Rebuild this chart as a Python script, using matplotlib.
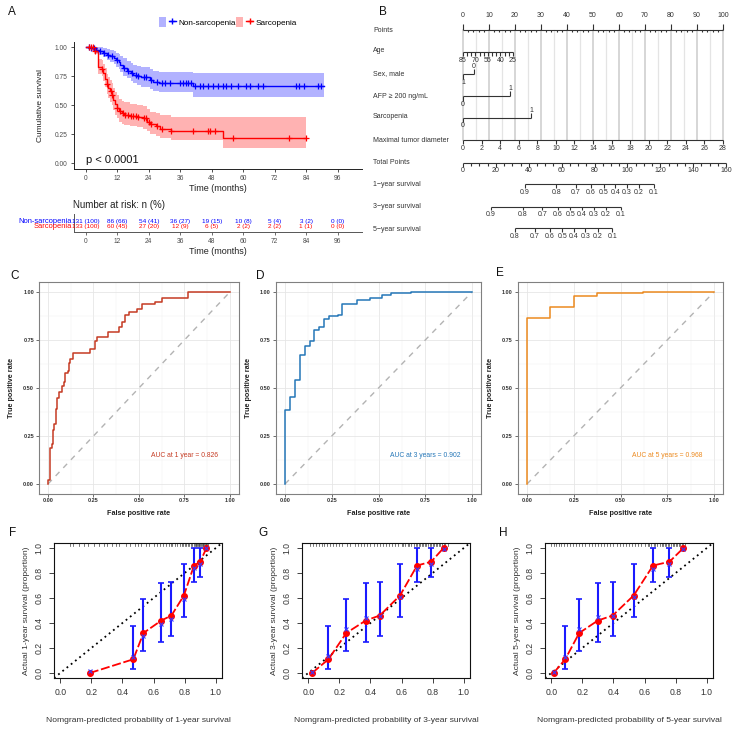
import numpy as np
import matplotlib
matplotlib.use('Agg')
import matplotlib.pyplot as plt
from matplotlib.patches import Patch
from matplotlib.lines import Line2D
from matplotlib.legend_handler import HandlerTuple

plt.rcParams['font.family'] = ['Liberation Sans', 'DejaVu Sans']

# ---------------- data: Kaplan-Meier (panel A) ----------------
t_ns = [0, 2, 4, 5, 6.5, 8, 9, 10.5, 11.5, 12.5, 13, 14, 15.5, 17, 18, 19.5, 21, 24.5, 25.5, 28, 41]
s_ns = [1.0, 0.99, 0.98, 0.965, 0.95, 0.935, 0.925, 0.91, 0.89, 0.87, 0.85, 0.82, 0.80, 0.78, 0.76, 0.75, 0.74, 0.72, 0.70, 0.695, 0.665]
up_ns = [1.0, 1.0, 1.0, 1.0, 0.995, 0.985, 0.975, 0.965, 0.95, 0.94, 0.925, 0.905, 0.885, 0.865, 0.85, 0.84, 0.83, 0.81, 0.795, 0.79, 0.78]
lo_ns = [1.0, 0.97, 0.955, 0.935, 0.915, 0.89, 0.875, 0.86, 0.83, 0.81, 0.79, 0.755, 0.735, 0.71, 0.69, 0.675, 0.66, 0.64, 0.62, 0.615, 0.575]
end_ns = 91
cens_ns = [1, 2, 3, 5.5, 7, 8.5, 10, 12, 14.5, 16, 17.5, 19, 20, 22, 23, 25, 27, 29, 30, 32, 36, 37, 38, 39, 40,
           41.5, 43.4, 44.6, 46.5, 48.4, 50.3, 52.2, 53.5, 55.4, 57.9, 61.1, 62.6, 65.6, 67.4, 80.2, 81.4, 83.3, 88.4, 89.7]

t_s = [0, 3, 4.5, 6, 6.6, 7.2, 7.9, 8.5, 9.1, 9.8, 10.4, 11, 11.9, 12.7, 13.6, 14.5, 16.7, 19.3, 21.8, 23.1, 24.4, 26.9, 28.2, 32.6, 52.3]
s_s = [1.0, 0.97, 0.83, 0.815, 0.78, 0.73, 0.68, 0.65, 0.62, 0.59, 0.55, 0.51, 0.48, 0.45, 0.43, 0.42, 0.41, 0.40, 0.39, 0.36, 0.34, 0.32, 0.30, 0.28, 0.22]
up_s = [1.0, 1.0, 0.90, 0.89, 0.86, 0.82, 0.77, 0.745, 0.715, 0.69, 0.65, 0.615, 0.585, 0.555, 0.535, 0.525, 0.515, 0.505, 0.495, 0.465, 0.445, 0.43, 0.42, 0.40, 0.40]
lo_s = [1.0, 0.94, 0.77, 0.75, 0.71, 0.66, 0.60, 0.56, 0.53, 0.50, 0.46, 0.42, 0.39, 0.36, 0.34, 0.33, 0.32, 0.31, 0.30, 0.275, 0.255, 0.235, 0.215, 0.20, 0.135]
end_s = 84
cens_s = [1, 2, 2.5, 3.5, 6, 8, 9.5, 10, 12, 13, 14, 15, 16, 17, 18, 19, 20, 22, 23, 24, 25, 27, 29, 32.6,
          40.8, 46.5, 47.4, 49.1, 56, 77.6, 84]

risk_times = [0, 12, 24, 36, 48, 60, 72, 84, 96]
risk_ns = ["131 (100)", "86 (66)", "54 (41)", "36 (27)", "19 (15)", "10 (8)", "5 (4)", "3 (2)", "0 (0)"]
risk_s = ["133 (100)", "60 (45)", "27 (20)", "12 (9)", "6 (5)", "2 (2)", "2 (2)", "1 (1)", "0 (0)"]

# ---------------- data: nomogram (panel B) ----------------
nomo_rows = ["Points", "Age", "Sex, male", "AFP \u2265 200 ng/mL", "Sarcopenia",
             "Maximal tumor diameter", "Total Points", "1\u2212year survival",
             "3\u2212year survival", "5\u2212year survival"]
age_ticks = [85, 80, 75, 70, 65, 60, 55, 50, 45, 40, 35, 30, 25]
age_labels = [85, 70, 55, 40, 25]
age_max_points = 19.2
sex_points = {"1": 0.0, "0": 4.2}
afp_points = {"0": 0.0, "1": 18.1}
sarc_points = {"0": 0.0, "1": 26.3}
tumor_ticks = list(range(0, 29, 2))
total_ticks = list(range(0, 161, 20))
surv_labels_1y = [0.9, 0.8, 0.7, 0.6, 0.5, 0.4, 0.3, 0.2, 0.1]
surv_tp_1y = [37.6, 56.7, 68.6, 77.9, 85.5, 92.7, 99.6, 107.0, 116.1]
surv_labels_3y = [0.9, 0.8, 0.7, 0.6, 0.5, 0.4, 0.3, 0.2, 0.1]
surv_tp_3y = [17.1, 36.2, 48.3, 57.5, 65.2, 72.4, 79.5, 86.9, 96.0]
surv_labels_5y = [0.8, 0.7, 0.6, 0.5, 0.4, 0.3, 0.2, 0.1]
surv_tp_5y = [31.6, 43.5, 52.7, 60.4, 67.4, 74.4, 81.9, 90.9]

# ---------------- data: ROC (panels C-E) ----------------
fpr_1y = [0, 0, 0.01, 0.013, 0.02, 0.027, 0.035, 0.042, 0.05, 0.06, 0.077, 0.086, 0.092, 0.11, 0.115, 0.123, 0.137,
          0.23, 0.26, 0.27, 0.33, 0.39, 0.405, 0.425, 0.447, 0.487, 0.515, 0.59, 0.625, 0.77, 1.0]
tpr_1y = [0, 0.02, 0.10, 0.19, 0.21, 0.28, 0.315, 0.39, 0.45, 0.48, 0.51, 0.53, 0.58, 0.59, 0.63, 0.65, 0.68,
          0.705, 0.745, 0.765, 0.79, 0.82, 0.845, 0.88, 0.895, 0.91, 0.935, 0.95, 0.97, 1.0, 1.0]
fpr_3y = [0, 0, 0.027, 0.053, 0.08, 0.107, 0.134, 0.155, 0.182, 0.209, 0.235, 0.285, 0.305, 0.383, 0.455, 0.517, 0.565, 0.672, 1.0]
tpr_3y = [0, 0.385, 0.454, 0.544, 0.674, 0.717, 0.743, 0.80, 0.818, 0.861, 0.873, 0.88, 0.94, 0.958, 0.967, 0.985, 0.993, 1.0, 1.0]
fpr_5y = [0, 0, 0.125, 0.25, 0.373, 0.622, 1.0]
tpr_5y = [0, 0.863, 0.923, 0.979, 0.993, 1.0, 1.0]
auc_texts = ["AUC at 1 year = 0.826", "AUC at 3 years = 0.902", "AUC at 5 years = 0.968"]

# ---------------- data: calibration (panels F-H) ----------------
obs = [0.0, 0.11, 0.32, 0.42, 0.46, 0.62, 0.86, 0.89, 1.0]
obs_lo = [np.nan, 0.035, 0.175, 0.25, 0.30, 0.445, 0.73, 0.77, np.nan]
obs_hi = [np.nan, 0.38, 0.595, 0.72, 0.725, 0.875, 1.0, 1.0, np.nan]
pred_1y = [0.19, 0.47, 0.535, 0.65, 0.715, 0.795, 0.86, 0.90, 0.94]
pred_3y = [0.025, 0.13, 0.245, 0.37, 0.46, 0.59, 0.70, 0.79, 0.87]
pred_5y = [0.015, 0.09, 0.18, 0.30, 0.395, 0.53, 0.655, 0.76, 0.85]
corr_1y = [0.02, 0.125, 0.30, 0.39, 0.435, 0.59, 0.84, 0.87, 1.0]
corr_3y = [0.005, 0.14, 0.35, 0.44, 0.46, 0.61, 0.83, 0.87, 0.995]
corr_5y = [0.005, 0.13, 0.355, 0.45, 0.46, 0.61, 0.83, 0.87, 0.995]
rug_1y = [0.06, 0.08, 0.12, 0.15, 0.18, 0.22, 0.25, 0.28, 0.30, 0.33, 0.36, 0.38, 0.42, 0.45, 0.48, 0.50, 0.52,
          0.55, 0.57, 0.60, 0.62, 0.64, 0.66, 0.68, 0.70, 0.71, 0.72, 0.74, 0.75, 0.77, 0.78, 0.79, 0.80, 0.81,
          0.82, 0.83, 0.84, 0.85, 0.86, 0.865, 0.87, 0.875, 0.88, 0.885, 0.89, 0.895, 0.90, 0.905, 0.91, 0.915,
          0.92, 0.925, 0.93, 0.935, 0.94, 0.945, 0.95]
rug_3y = [0.01, 0.03, 0.05, 0.07, 0.09, 0.10, 0.12, 0.14, 0.16, 0.18, 0.20, 0.22, 0.25, 0.27, 0.30, 0.32, 0.34,
          0.36, 0.38, 0.40, 0.42, 0.44, 0.46, 0.48, 0.50, 0.52, 0.54, 0.56, 0.58, 0.60, 0.61, 0.62, 0.64, 0.65,
          0.66, 0.68, 0.69, 0.70, 0.71, 0.72, 0.73, 0.74, 0.75, 0.76, 0.77, 0.78, 0.79, 0.80, 0.81, 0.82, 0.83,
          0.84, 0.85, 0.86, 0.87, 0.88, 0.90]
rug_5y = [0.00, 0.02, 0.03, 0.05, 0.06, 0.08, 0.10, 0.12, 0.14, 0.16, 0.18, 0.20, 0.22, 0.24, 0.26, 0.28, 0.30,
          0.32, 0.34, 0.36, 0.38, 0.40, 0.42, 0.44, 0.46, 0.48, 0.50, 0.52, 0.54, 0.56, 0.58, 0.60, 0.62, 0.63,
          0.64, 0.66, 0.67, 0.68, 0.70, 0.71, 0.72, 0.73, 0.74, 0.75, 0.76, 0.77, 0.78, 0.79, 0.80, 0.81, 0.82,
          0.83, 0.84, 0.85, 0.86]

# =====================================================================
W, H = 736, 729
fig = plt.figure(figsize=(W / 100, H / 100), dpi=100)


def add_ax(l, t, r, b):
    return fig.add_axes([l / W, 1 - b / H, (r - l) / W, (b - t) / H])


def ftext(x, y, s, **kw):
    fig.text(x / W, 1 - y / H, s, **kw)


# ---------------- Panel A ----------------
axA = add_ax(74, 41.5, 362, 169.1)
xl = (-4.58, 105.35)
for t, s, up, lo, end, col in [(t_ns, s_ns, up_ns, lo_ns, end_ns, 'blue'),
                               (t_s, s_s, up_s, lo_s, end_s, 'red')]:
    tt = list(t) + [end]
    axA.fill_between(tt, list(up) + [up[-1]], list(lo) + [lo[-1]], step='post', color=col, alpha=0.3, lw=0)
    axA.step(tt, list(s) + [s[-1]], where='post', color=col, lw=1.0)
for t, s, c, col in [(t_ns, s_ns, cens_ns, 'blue'), (t_s, s_s, cens_s, 'red')]:
    idx = np.searchsorted(np.array(t), np.array(c), side='right') - 1
    axA.plot(c, np.array(s)[idx], ls='none', marker='+', ms=5, mew=0.9, color=col)
axA.set_xlim(*xl)
axA.set_ylim(-0.05, 1.05)
axA.set_xticks(risk_times)
axA.set_yticks([0, 0.25, 0.5, 0.75, 1.0])
axA.set_yticklabels(["0.00", "0.25", "0.50", "0.75", "1.00"])
for sp in ['top', 'right']:
    axA.spines[sp].set_visible(False)
for sp in ['left', 'bottom']:
    axA.spines[sp].set_color('#222222')
    axA.spines[sp].set_linewidth(0.7)
axA.tick_params(length=2.5, width=0.6, colors='#333333', labelsize=4.8, labelcolor='#4d4d4d', pad=2)
axA.set_ylabel("Cumulative survival", fontsize=6, color='#222222', labelpad=8)
axA.set_xlabel("Time (months)", fontsize=6.5, color='#222222', labelpad=1.5)
axA.text(0, 0.03, "p < 0.0001", fontsize=8, ha='left', va='center', color='#111111')

h1 = (Patch(facecolor='blue', alpha=0.3, lw=0), Line2D([], [], color='blue', marker='+', ms=5, lw=1))
h2 = (Patch(facecolor='red', alpha=0.3, lw=0), Line2D([], [], color='red', marker='+', ms=5, lw=1))
fig.legend([h1, h2], ["Non-sarcopenia", "Sarcopenia"], handler_map={tuple: HandlerTuple(ndivide=None)},
           loc='center', bbox_to_anchor=(228 / W, 1 - 22 / H), ncol=2, frameon=False, fontsize=5.9,
           handlelength=2.0, handleheight=1.6, handletextpad=0.3, columnspacing=0.1)

# risk table
axR = add_ax(74, 214, 362, 232)
axR.set_xlim(*xl)
axR.set_ylim(0, 1)
for t, a, b in zip(risk_times, risk_ns, risk_s):
    axR.text(t, 0.61, a, ha='center', va='center', fontsize=4.6, color='blue')
    axR.text(t, 0.28, b, ha='center', va='center', fontsize=4.6, color='red')
axR.text(-0.007, 0.61, "Non-sarcopenia", transform=axR.transAxes, ha='right', va='center', fontsize=5.4, color='blue')
axR.text(-0.007, 0.28, "Sarcopenia", transform=axR.transAxes, ha='right', va='center', fontsize=5.4, color='red')
axR.set_xticks(risk_times)
axR.set_yticks([])
for sp in ['top', 'right']:
    axR.spines[sp].set_visible(False)
for sp in ['left', 'bottom']:
    axR.spines[sp].set_color('#555555')
    axR.spines[sp].set_linewidth(0.7)
axR.tick_params(length=2.5, width=0.6, colors='#555555', labelsize=4.8, labelcolor='#4d4d4d', pad=2)
axR.set_xlabel("Time (months)", fontsize=6.5, color='#222222', labelpad=1.5)
ftext(73, 205, "Number at risk: n (%)", fontsize=7, ha='left', va='center', color='#222222')

# ---------------- Panel B (nomogram) ----------------
axB = add_ax(370, 0, 736, 245)
pxp = 2.6  # pixels per point
axB.set_xlim((370 - 463) / pxp, (736 - 463) / pxp)
axB.set_ylim(245, 0)
axB.axis('off')
lc = '#333333'
lkw = dict(color=lc, lw=0.8, solid_capstyle='butt')
tk = dict(fontsize=5, color='#333333', ha='center', va='center')
row_y = [30, 51, 74, 96, 117, 140, 163, 184, 207, 229]
for name, y in zip(nomo_rows, row_y):
    axB.text((373 - 463) / pxp, y, name, fontsize=5, color='#333333', ha='left', va='center')

# vertical guide lines
for p in range(0, 101, 5):
    axB.plot([p, p], [30, 140], color='#d0d0d0' if p % 10 == 0 else '#e4e4e4', lw=1.2 if p % 10 == 0 else 0.9, zorder=0)

# Points
yP = 29.5
axB.plot([0, 100], [yP, yP], **lkw)
for p in range(0, 101, 2):
    if p % 10 == 0:
        axB.plot([p, p], [yP, yP - 6], **lkw)
        axB.text(p, 15.5, str(p), **tk)
    else:
        axB.plot([p, p], [yP, yP + 2], **lkw)

# Age
yA = 51.7
age_pts = [(85 - a) / (85 - 25) * age_max_points for a in age_ticks]
axB.plot([min(age_pts), max(age_pts)], [yA, yA], **lkw)
for a, p in zip(age_ticks, age_pts):
    axB.plot([p, p], [yA, yA + 4], **lkw)
    if a in age_labels:
        axB.text(p, 60.2, str(a), **tk)

# binary variables
for pts, y in [(sex_points, 74), (afp_points, 96), (sarc_points, 117.5)]:
    items = list(pts.items())
    xs = [v for k, v in items]
    axB.plot([min(xs), max(xs)], [y, y], **lkw)
    for k, v in items:
        if v == max(xs):
            axB.plot([v, v], [y, y - 5], **lkw)
            axB.text(v, y - 7.5, k, **tk)
        else:
            axB.plot([v, v], [y, y + 4.5], **lkw)
            axB.text(v, y + 8, k, **tk)

# tumour diameter
yT = 140
axB.plot([0, 100], [yT, yT], **lkw)
for d in tumor_ticks:
    p = d / 28 * 100
    axB.plot([p, p], [yT, yT + 3.5], **lkw)
    axB.text(p, 148.7, str(d), **tk)

# total points
yTP = 163.3
tps = 101.2 / 160
axB.plot([0, 160 * tps], [yTP, yTP], **lkw)
for v in range(0, 161, 5):
    axB.plot([v * tps, v * tps], [yTP, yTP + (3.5 if v % 20 == 0 else 2.2)], **lkw)
for v in total_ticks:
    axB.text(v * tps, 170.7, str(v), **tk)

# survival axes
for labs, tpv, y in [(surv_labels_1y, surv_tp_1y, 184.3), (surv_labels_3y, surv_tp_3y, 206.7),
                     (surv_labels_5y, surv_tp_5y, 228.3)]:
    xs = [v * tps for v in tpv]
    axB.plot([xs[0], xs[-1]], [y, y], **lkw)
    for lab, x in zip(labs, xs):
        axB.plot([x, x], [y, y + 3.5], **lkw)
        axB.text(x, y + 8, f"{lab:g}", **tk)

# ---------------- Panels C-E (ROC) ----------------
roc_cols = ['#c53b23', '#2577b8', '#ec8a1f']
roc_rects = [(38.9, 282.4, 239, 493.6), (275.65, 282.4, 481.35, 493.6), (517.65, 282.4, 723.35, 493.6)]
for rect, fpr, tpr, col, txt in zip(roc_rects, [fpr_1y, fpr_3y, fpr_5y], [tpr_1y, tpr_3y, tpr_5y],
                                    roc_cols, auc_texts):
    ax = add_ax(*rect)
    ax.set_xlim(-0.05, 1.05)
    ax.set_ylim(-0.05, 1.05)
    ticks = [0, 0.25, 0.5, 0.75, 1.0]
    tl = ["0.00", "0.25", "0.50", "0.75", "1.00"]
    ax.set_xticks(ticks)
    ax.set_xticklabels(tl)
    ax.set_yticks(ticks)
    ax.set_yticklabels(tl)
    ax.set_xticks([0.125, 0.375, 0.625, 0.875], minor=True)
    ax.set_yticks([0.125, 0.375, 0.625, 0.875], minor=True)
    ax.grid(True, which='major', color='#e6e6e6', lw=0.6)
    ax.grid(True, which='minor', color='#f2f2f2', lw=0.35)
    ax.set_axisbelow(True)
    ax.tick_params(which='major', length=2, width=0.5, colors='#333333', labelsize=4, labelcolor='#333333', pad=1.5)
    ax.tick_params(which='minor', length=0)
    for lab in ax.get_xticklabels() + ax.get_yticklabels():
        lab.set_fontweight('bold')
    for sp in ax.spines.values():
        sp.set_color('#808080')
        sp.set_linewidth(0.8)
    ax.plot([0, 1], [0, 1], color='#b3b3b3', lw=1.0, ls=(0, (4, 4)))
    ax.plot(fpr, tpr, drawstyle='steps-post', color=col, lw=1.1)
    ax.text(0.75, 0.15, txt, color=col, fontsize=4.9, ha='center', va='center')
    ax.set_xlabel("False positive rate", fontsize=5.2, fontweight='bold', color='#222222', labelpad=5)
    ax.set_ylabel("True positive rate", fontsize=5.2, fontweight='bold', color='#222222', labelpad=6)

# ---------------- Panels F-H (calibration) ----------------
cal_rects = [(54, 543, 222, 678), (302, 543, 470, 678), (545, 543, 713, 678)]
cal_years = ["1", "3", "5"]
for rect, pred, corr, rug, yr in zip(cal_rects, [pred_1y, pred_3y, pred_5y], [corr_1y, corr_3y, corr_5y],
                                     [rug_1y, rug_3y, rug_5y], cal_years):
    ax = add_ax(*rect)
    ax.set_xlim(-0.04, 1.04)
    ax.set_ylim(-0.04, 1.04)
    ax.axline((0, 0), (1, 1), color='black', ls=(0, (1, 2)), lw=1.3)
    for x in rug:
        ax.plot([x, x], [1.04, 1.015], color='#444444', lw=0.5)
    pred_a = np.array(pred)
    lo = np.array(obs_lo)
    hi = np.array(obs_hi)
    ok = ~np.isnan(lo)
    o = np.array(obs)
    ax.errorbar(pred_a[ok], o[ok], yerr=[o[ok] - lo[ok], hi[ok] - o[ok]], fmt='none', ecolor='#1a1aff',
                elinewidth=1.5, capsize=2, capthick=1.2, zorder=3)
    ax.plot(pred, obs, color='red', lw=1.3, ls=(0, (5, 1.5)), zorder=4)
    ax.plot(pred, obs, ls='none', marker='o', ms=4, color='red', zorder=5)
    ax.plot(pred, corr, ls='none', marker='x', ms=3.5, mew=0.8, color='#3a3aff', zorder=6)
    ticks = [0, 0.2, 0.4, 0.6, 0.8, 1.0]
    ax.set_xticks(ticks)
    ax.set_yticks(ticks)
    ax.set_xticklabels([f"{t:.1f}" for t in ticks])
    ax.set_yticklabels([f"{t:.1f}" for t in ticks], rotation=90, va='center')
    ax.tick_params(length=3.5, width=0.6, colors='#222222', labelsize=6.2, labelcolor='#333333', pad=4)
    for sp in ax.spines.values():
        sp.set_color('#111111')
        sp.set_linewidth(0.8)
    ax.set_xlabel(f"Nomgram-predicted probability of {yr}-year survival", fontsize=6.1, color='#333333', labelpad=14)
    ax.set_ylabel(f"Actual {yr}-year survival (proportion)", fontsize=6.1, color='#333333', labelpad=3)

# ---------------- panel letters ----------------
for lab, x, y in [("A", 12, 12), ("B", 383, 12), ("C", 15, 276), ("D", 260, 276), ("E", 500, 273),
                  ("F", 13, 533), ("G", 263, 533), ("H", 503, 533)]:
    ftext(x, y, lab, fontsize=8.5, ha='center', va='center', color='#111111')

fig.savefig("out.png", dpi=100)
